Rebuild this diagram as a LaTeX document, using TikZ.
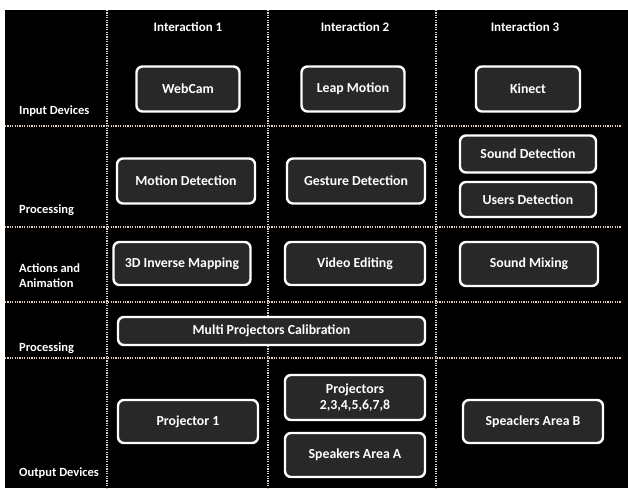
\documentclass[tikz,border=0pt]{standalone}
\usepackage{fontspec}
\setmainfont{Carlito}
\begin{document}
\begin{tikzpicture}[x=1pt,y=-1pt,
  boxnode/.style={draw=white, line width=2.4pt, fill=boxgray, rounded corners=6pt,
    text=white, font=\bfseries\fontsize{13.8}{14}\selectfont, align=center, inner sep=0pt},
  hdr/.style={text=white, font=\bfseries\fontsize{13}{14}\selectfont, inner sep=0pt},
  rowlab/.style={text=white, font=\bfseries\fontsize{12.5}{15}\selectfont, inner sep=0pt, anchor=west, align=left},
  gridline/.style={draw=dotcol, line width=1.3pt, dash pattern=on 1.2pt off 1.2pt}]
\definecolor{boxgray}{RGB}{40,40,40}
\definecolor{dotcol}{RGB}{225,205,190}
\useasboundingbox (0,0) rectangle (628,488);
\fill[white] (0,0) rectangle (628,488);
\fill[black] (5,10) rectangle (628,488);
% grid
\coordinate (v1t) at (107,10); \coordinate (v1b) at (107,488);
\coordinate (v2t) at (268,10); \coordinate (v2b) at (268,488);
\coordinate (v3t) at (436,10); \coordinate (v3b) at (436,488);
\draw[gridline] (v1t) -- (v1b);
\draw[gridline] (v2t) -- (v2b);
\draw[gridline] (v3t) -- (v3b);
\foreach \yy/\nm in {126/h1,227/h2,302/h3,358/h4}{
  \coordinate (\nm l) at (5,\yy); \coordinate (\nm r) at (621,\yy);
  \draw[gridline] (\nm l) -- (\nm r);
}
% headers
\node[hdr] (i1) at (188,27) {Interaction 1};
\node[hdr] (i2) at (355,27) {Interaction 2};
\node[hdr] (i3) at (525,27) {Interaction 3};
% row labels
\node[rowlab] (r1) at (19,111) {Input Devices};
\node[rowlab] (r2) at (19,210) {Processing};
\node[rowlab] (r3) at (19,276) {Actions and\\Animation};
\node[rowlab] (r4) at (19,348) {Processing};
\node[rowlab] (r5) at (19,473) {Output Devices};
% boxes
\node[boxnode, minimum width=103pt, minimum height=45pt] (webcam) at (188,89) {WebCam};
\node[boxnode, minimum width=103pt, minimum height=45pt] (leap) at (353,89) {Leap Motion};
\node[boxnode, minimum width=104pt, minimum height=45pt] (kinect) at (528,89) {Kinect};
\node[boxnode, minimum width=138pt, minimum height=45pt] (motion) at (186,181) {Motion Detection};
\node[boxnode, minimum width=138pt, minimum height=45pt] (gesture) at (356,181) {Gesture Detection};
\node[boxnode, minimum width=136pt, minimum height=37pt] (sound) at (528,154) {Sound Detection};
\node[boxnode, minimum width=136pt, minimum height=35pt] (users) at (528,199.5) {Users Detection};
\node[boxnode, minimum width=137pt, minimum height=43pt] (inverse) at (182,263.5) {3D Inverse Mapping};
\node[boxnode, minimum width=140pt, minimum height=43pt] (video) at (355,263.5) {Video Editing};
\node[boxnode, minimum width=138pt, minimum height=44pt] (mixing) at (529,264) {Sound Mixing};
\node[boxnode, minimum width=307pt, minimum height=28pt] (calib) at (271.5,331) {Multi Projectors Calibration};
\node[boxnode, minimum width=140pt, minimum height=43pt] (proj1) at (188,421.5) {Projector 1};
\node[boxnode, minimum width=140pt, minimum height=45pt, font=\bfseries\fontsize{13.8}{16}\selectfont] (projs) at (355,397.5) {Projectors\\2,3,4,5,6,7,8};
\node[boxnode, minimum width=140pt, minimum height=44pt] (spka) at (355,455) {Speakers Area A};
\node[boxnode, minimum width=140pt, minimum height=43pt] (spkb) at (533,421.5) {Speaclers Area B};
\end{tikzpicture}
\end{document}
